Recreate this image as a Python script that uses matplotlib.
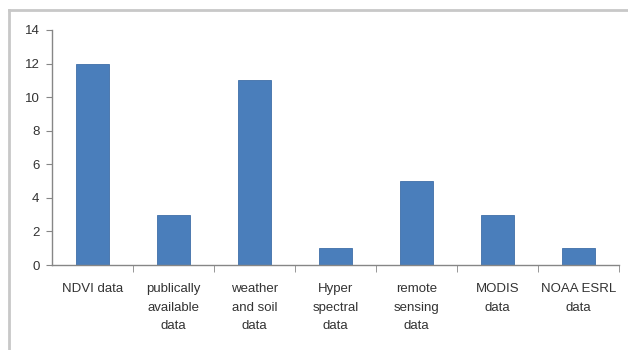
import matplotlib
matplotlib.use('Agg')
import matplotlib.pyplot as plt
from matplotlib.lines import Line2D

categories = ['NDVI data', 'publically\navailable\ndata', 'weather\nand soil\ndata',
              'Hyper\nspectral\ndata', 'remote\nsensing\ndata', 'MODIS\ndata', 'NOAA ESRL\ndata']
counts = [12, 3, 11, 1, 5, 3, 1]
y_ticks = [0, 2, 4, 6, 8, 10, 12, 14]

plt.rcParams['font.family'] = ['Liberation Sans', 'DejaVu Sans']

fig = plt.figure(figsize=(6.28, 3.5), dpi=100)
W, H = 628, 350
ax = fig.add_axes([52 / W, 1 - 265 / H, (619 - 52) / W, (265 - 30) / H])

x = range(len(categories))
ax.bar(x, counts, width=0.4, color='#4a7ebb', edgecolor='#3f6fa8', linewidth=0.6)

ax.set_xlim(-0.5, len(categories) - 0.5)
ax.set_ylim(0, 14)
ax.set_yticks(y_ticks)
ax.tick_params(axis='y', direction='out', length=4, color='#868686', labelsize=9.5,
               labelcolor='#333333', pad=5)

# category labels under the axis, separators between categories
ax.set_xticks([])
ax.set_xticks([i + 0.5 for i in range(len(categories))], minor=True)
ax.tick_params(axis='x', which='minor', direction='out', length=5, color='#868686')
for i, name in enumerate(categories):
    ax.text(i, -1.1, name, ha='center', va='top', fontsize=9.5, color='#333333',
            linespacing=1.7)

for side in ['top', 'right']:
    ax.spines[side].set_visible(False)
for side in ['left', 'bottom']:
    ax.spines[side].set_color('#868686')
    ax.spines[side].set_linewidth(1.0)

# chart frame
fig.add_artist(Line2D([9 / W, 1], [1 - 10 / H, 1 - 10 / H], color='#c8c8c8', linewidth=2))
fig.add_artist(Line2D([9 / W, 9 / W], [0, 1 - 10 / H], color='#c8c8c8', linewidth=2))

fig.savefig('out.png', dpi=100)
